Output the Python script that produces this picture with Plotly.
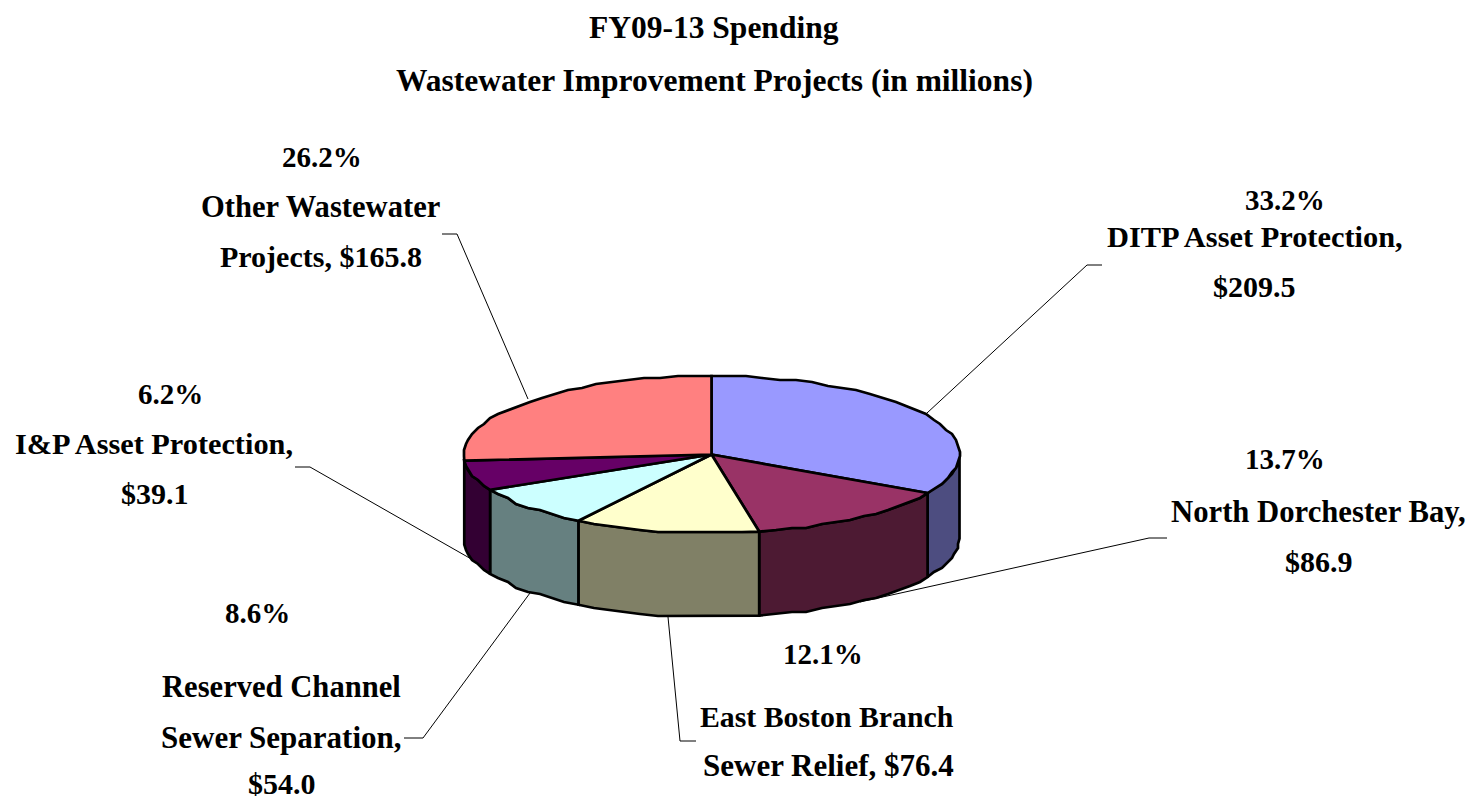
import math
import plotly.graph_objects as go

# ---- data ----
projects = ["DITP Asset Protection", "North Dorchester Bay", "East Boston Branch Sewer Relief",
            "Reserved Channel Sewer Separation", "I&P Asset Protection", "Other Wastewater Projects"]
spending = [209.5, 86.9, 76.4, 54.0, 39.1, 165.8]
percent_labels = ["33.2%", "13.7%", "12.1%", "8.6%", "6.2%", "26.2%"]
name_lines = [["DITP Asset Protection,", "$209.5"],
              ["North Dorchester Bay,", "$86.9"],
              ["East Boston Branch", "Sewer Relief, $76.4"],
              ["Reserved Channel", "Sewer Separation,", "$54.0"],
              ["I&P Asset Protection,", "$39.1"],
              ["Other Wastewater", "Projects, $165.8"]]
title_lines = ["FY09-13 Spending", "Wastewater Improvement Projects (in millions)"]

# ---- styling / layout ----
W, H = 1479, 802
top_colors = ["#9999FF", "#993366", "#FFFFCC", "#CCFFFF", "#660066", "#FF8080"]
wall_colors = ["#4D4D80", "#4D1A33", "#808066", "#668080", "#330033", None]
CX, CY, RX, RY, DEPTH = 711.5, 454.5, 248, 78.5, 84
STEP = 4.0      # angular facet of the rim, degrees
GRID = 2.0      # coarse rounding gives the rim its faceted look
FONT = "Liberation Serif"
TITLE_SIZE = 31.5
PCT_SIZE = 29
name_sizes = [[30.4, 30], [30.7, 30], [29.8, 31], [30.6, 31, 30], [30.3, 30], [30.6, 30]]
pct_pos = [(1284.5, 199.5), (1285, 459), (822.5, 654), (257, 613), (170, 394), (322, 157)]
name_pos = [[(1254.5, 237), (1254, 286)],
            [(1318.5, 512), (1319, 561)],
            [(827, 716), (828, 765)],
            [(281.5, 687), (281.5, 737), (281.5, 783.5)],
            [(154, 444), (154.5, 493)],
            [(320, 207), (321, 256)]]
title_pos = [(714, 27), (714, 80)]
leaders = [[(927, 413), (1087, 265), (1102, 265)],
           [(860, 602), (1149, 538), (1167, 538)],
           [(668, 617), (680, 741), (696, 741)],
           [(530, 593), (423, 738), (404, 738)],
           [(473, 560), (310, 467), (295, 467)],
           [(528, 399), (457, 234), (442, 234)]]


def q(v):
    return round(v / GRID) * GRID


def rim(a0, a1, dy=0.0):
    """Rim points clockwise from 12 o'clock, between two angles in degrees."""
    n = max(1, math.ceil((a1 - a0) / STEP))
    angs = [a0 + (a1 - a0) * i / n for i in range(n + 1)]
    xs, ys = [], []
    for i, a in enumerate(angs):
        x = CX + RX * math.sin(math.radians(a))
        y = CY - RY * math.cos(math.radians(a)) + dy
        if 0 < i < n:
            x, y = q(x), q(y)
        xs.append(x)
        ys.append(y)
    return xs, ys


total = sum(spending)
starts, acc = [], 0.0
for v in spending:
    starts.append(acc / total * 360)
    acc += v
ends = starts[1:] + [360.0]

fig = go.Figure()
OUTLINE = dict(color="black", width=2.7)

# outer walls of the front half
for s, e, c in zip(starts, ends, wall_colors):
    a0, a1 = max(s, 90), min(e, 270)
    if a1 <= a0 or c is None:
        continue
    tx, ty = rim(a0, a1)
    bx, by = rim(a0, a1, DEPTH)
    fig.add_trace(go.Scatter(x=tx + bx[::-1] + tx[:1], y=ty + by[::-1] + ty[:1], mode="lines",
                             fill="toself", fillcolor=c, line=OUTLINE, hoverinfo="skip", showlegend=False))

# top faces
for name, v, s, e, c in zip(projects, spending, starts, ends, top_colors):
    rx_, ry_ = rim(s, e)
    fig.add_trace(go.Scatter(x=[CX] + rx_ + [CX], y=[CY] + ry_ + [CY], mode="lines", name=name,
                             fill="toself", fillcolor=c, line=OUTLINE,
                             text=f"{name}: ${v}M", hoverinfo="text", showlegend=False))

anns = []


def add_text(txt, pos, size):
    anns.append(dict(x=pos[0], y=pos[1], xref="x", yref="y", text=f"<b>{txt}</b>", showarrow=False,
                     xanchor="center", yanchor="middle",
                     font=dict(family=FONT, size=size, color="black")))


for t, p in zip(title_lines, title_pos):
    add_text(t, p, TITLE_SIZE)
for t, p in zip(percent_labels, pct_pos):
    add_text(t, p, PCT_SIZE)
for lines, poss, sizes in zip(name_lines, name_pos, name_sizes):
    for t, p, sz in zip(lines, poss, sizes):
        add_text(t, p, sz)

shapes = []
for pts in leaders:
    path = "M " + " L ".join(f"{x} {y}" for x, y in pts)
    shapes.append(dict(type="path", path=path, xref="x", yref="y", layer="below",
                       line=dict(color="black", width=1)))

fig.update_layout(width=W, height=H, margin=dict(l=0, r=0, t=0, b=0),
                  paper_bgcolor="white", plot_bgcolor="white",
                  annotations=anns, shapes=shapes, showlegend=False,
                  xaxis=dict(range=[0, W], visible=False, fixedrange=True),
                  yaxis=dict(range=[H, 0], visible=False, fixedrange=True))

fig.write_html("out.html", post_script="document.body.style.margin='0';document.body.style.overflow='hidden';",
               config={"displayModeBar": False})
